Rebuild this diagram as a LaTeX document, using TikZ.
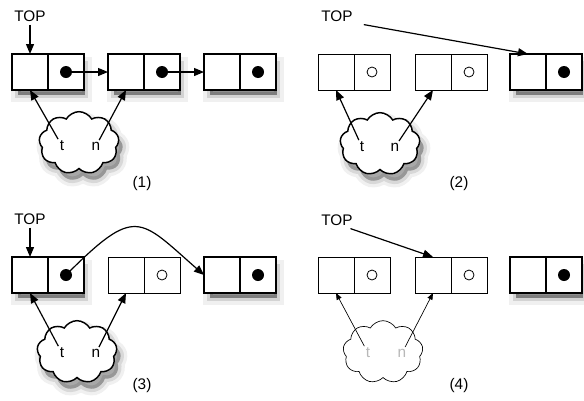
\documentclass[tikz,border=0pt]{standalone}
\usepackage{fontspec}
\setmainfont{Liberation Sans}
\usetikzlibrary{arrows.meta,shapes.symbols,backgrounds}

\tikzset{every picture/.style={line width=0.75pt}}
\tikzset{
	cell/.style={draw, fill=white, line width=1.2pt, minimum width=27pt, minimum height=27pt, inner sep=0pt, outer sep=0pt},
	oldcell/.style={draw, fill=white, line width=0.6pt, minimum width=27pt, minimum height=27pt, inner sep=0pt, outer sep=0pt},
	ball/.style={circle, fill=black, inner sep=0pt, minimum size=9pt},
	hollow/.style={circle, draw, line width=0.6pt, inner sep=0pt, minimum size=7.5pt},
	link/.style={line width=0.9pt, -{Triangle[length=7.5pt,width=6pt]}},
	thinlink/.style={line width=0.5pt, -{Triangle[length=5pt,width=4pt]}},
	cloudbase/.style={cloud, cloud puffs=9, cloud puff arc=120, aspect=1.3, minimum width=60pt, minimum height=47pt, inner sep=0pt},
	varcloud/.style={cloudbase, draw, fill=white, line width=1.1pt},
	oldcloud/.style={cloudbase, draw, fill=white, line width=0.5pt},
	cloudshade/.style={cloudbase, fill=black, fill opacity=0.3, draw=black, draw opacity=0.1, line width=5pt,
		preaction={draw=black, draw opacity=0.06, line width=10pt}},
	boxshade/.style={fill=black, fill opacity=0.4, draw=black, draw opacity=0.12, line width=5pt,
		preaction={draw=black, draw opacity=0.06, line width=10pt}},
	lbl/.style={font=\fontsize{11.5}{13}\selectfont, inner sep=2pt},
	vlbl/.style={font=\fontsize{11.5}{13}\selectfont, inner sep=1pt}
}

\begin{document}
\begin{tikzpicture}[x=0.75pt,y=0.75pt,yscale=-1,xscale=1]
	\useasboundingbox (0,0) rectangle (584,400);

	%%% (1)
	%Shape: Cells
	\node[cell] (a1l) at (30,72) {};
	\node[cell] (a1r) at (66,72) {};
	\node[cell] (a2l) at (126,72) {};
	\node[cell] (a2r) at (162,72) {};
	\node[cell] (a3l) at (222,72) {};
	\node[cell] (a3r) at (258,72) {};
	\node[ball] (a1d) at (a1r) {};
	\node[ball] (a2d) at (a2r) {};
	\node[ball] (a3d) at (a3r) {};
	%Straight Lines
	\draw[link] (a1d.center) -- (a2l.west);
	\draw[link] (a2d.center) -- (a3l.west);
	% Text Node
	\node[lbl] (atop) at (30,16) {TOP};
	\draw[link] (atop) -- (a1l.north);
	%Shape: Cloud
	\node[varcloud] (acl) at (79,143) {};
	\node[vlbl] (at) at (62,146) {t};
	\node[vlbl] (an) at (96,146) {n};
	\draw[link] (at) -- (a1l.south);
	\draw[link] (an) -- (a2l.south);
	% Text Node
	\node[lbl] (alab) at (142,184) {(1)};

	%%% (2)
	%Shape: Cells
	\node[oldcell] (b1l) at (336,72) {};
	\node[oldcell] (b1r) at (372,72) {};
	\node[oldcell] (b2l) at (433,72) {};
	\node[oldcell] (b2r) at (469,72) {};
	\node[cell] (b3l) at (528,72) {};
	\node[cell] (b3r) at (564,72) {};
	\node[hollow] (b1d) at (b1r) {};
	\node[hollow] (b2d) at (b2r) {};
	\node[ball] (b3d) at (b3r) {};
	% Text Node
	\node[lbl] (btop) at (337,16) {TOP};
	\draw[link] ([xshift=6pt]btop.south east) -- (b3l.north);
	%Shape: Cloud
	\node[varcloud] (bcl) at (380,144) {};
	\node[vlbl] (bt) at (362,147) {t};
	\node[vlbl] (bn) at (395,147) {n};
	\draw[link] (bt) -- (b1l.south);
	\draw[link] (bn) -- (b2l.south);
	% Text Node
	\node[lbl] (blab) at (459,184) {(2)};

	%%% (3)
	%Shape: Cells
	\node[cell] (c1l) at (30,275) {};
	\node[cell] (c1r) at (66,275) {};
	\node[oldcell] (c2l) at (126,275) {};
	\node[oldcell] (c2r) at (162,275) {};
	\node[cell] (c3l) at (222,275) {};
	\node[cell] (c3r) at (258,275) {};
	\node[ball] (c1d) at (c1r) {};
	\node[hollow] (c2d) at (c2r) {};
	\node[ball] (c3d) at (c3r) {};
	%Curve Lines
	\draw[link] (c1d.center) .. controls (136,205) and (139,218) .. (c3l.west);
	% Text Node
	\node[lbl] (ctop) at (30,219) {TOP};
	\draw[link] (ctop) -- (c1l.north);
	%Shape: Cloud
	\node[varcloud] (ccl) at (77,352) {};
	\node[vlbl] (ct) at (62,353) {t};
	\node[vlbl] (cn) at (96,353) {n};
	\draw[link] (ct) -- (c1l.south);
	\draw[link] (cn) -- (c2l.south);
	% Text Node
	\node[lbl] (clab) at (142,386) {(3)};

	%%% (4)
	%Shape: Cells
	\node[oldcell] (d1l) at (336,275) {};
	\node[oldcell] (d1r) at (372,275) {};
	\node[oldcell] (d2l) at (433,275) {};
	\node[oldcell] (d2r) at (469,275) {};
	\node[cell] (d3l) at (528,275) {};
	\node[cell] (d3r) at (564,275) {};
	\node[hollow] (d1d) at (d1r) {};
	\node[hollow] (d2d) at (d2r) {};
	\node[ball] (d3d) at (d3r) {};
	% Text Node
	\node[lbl] (dtop) at (337,220) {TOP};
	\draw[link] ([xshift=-4pt]dtop.south east) -- (d2l.north);
	%Shape: Cloud
	\node[oldcloud] (dcl) at (383,352) {};
	\node[vlbl, text=black!28] (dt) at (368,353) {t};
	\node[vlbl, text=black!28] (dn) at (402,353) {n};
	\draw[thinlink] (dt) -- (d1l.south);
	\draw[thinlink] (dn) -- (d2l.south);
	% Text Node
	\node[lbl] (dlab) at (459,386) {(4)};

	%Shadows
	\begin{scope}[on background layer]
		\foreach \lc/\rc in {a1l/a1r,a2l/a2r,a3l/a3r,b3l/b3r,c1l/c1r,c3l/c3r,d3l/d3r}
			\path[boxshade] ([shift={(6,10)}]\lc.north west) rectangle ([shift={(1,5)}]\rc.south east);
		\foreach \cl in {acl,bcl,ccl}
			\node[cloudshade] at ([shift={(4,7)}]\cl) {};
	\end{scope}

\end{tikzpicture}
\end{document}
